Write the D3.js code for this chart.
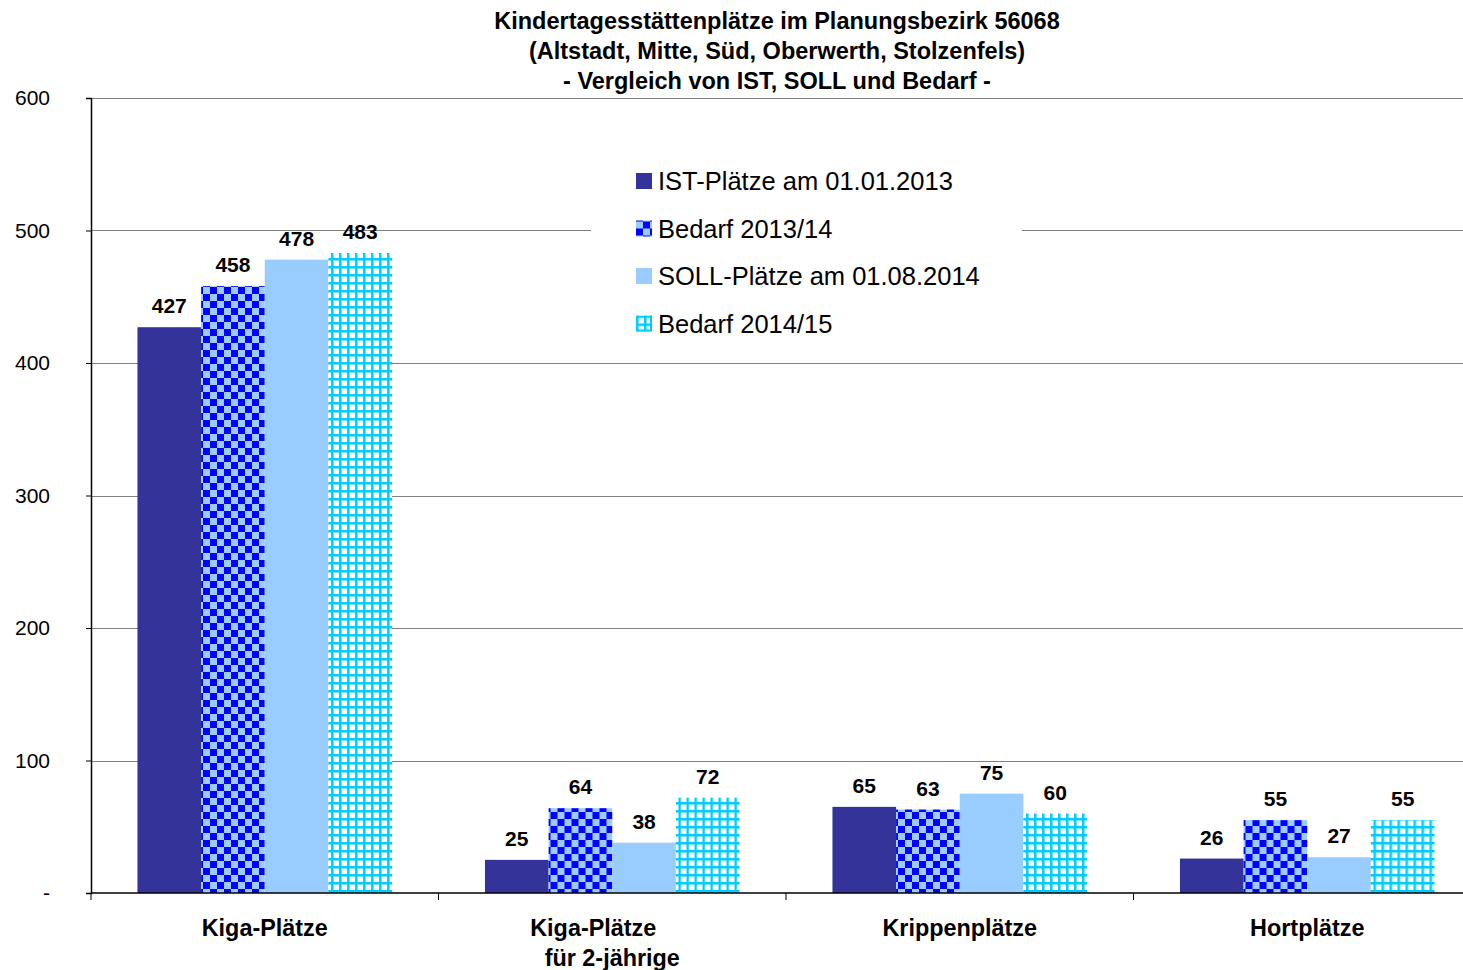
<!DOCTYPE html>
<html>
<head>
<meta charset="utf-8">
<script src="https://cdn.jsdelivr.net/npm/d3@7"></script>
<style>
  body { margin: 0; background: #fff; }
  svg { display: block; font-family: Arial, "Liberation Sans", sans-serif; }
</style>
</head>
<body>
<div id="chart"></div>
<script>
// chart data
const categories = [['Kiga-Plätze'], ['Kiga-Plätze', 'für 2-jährige'], ['Krippenplätze'], ['Hortplätze']];
const seriesNames = ['IST-Plätze am 01.01.2013', 'Bedarf 2013/14', 'SOLL-Plätze am 01.08.2014', 'Bedarf 2014/15'];
const istPlaetze = [427, 25, 65, 26];
const bedarf1314 = [458, 64, 63, 55];
const sollPlaetze = [478, 38, 75, 27];
const bedarf1415 = [483, 72, 60, 55];
const yTicks = [0, 100, 200, 300, 400, 500, 600];
const titleLines = [
  'Kindertagesstättenplätze im Planungsbezirk 56068',
  '(Altstadt, Mitte, Süd, Oberwerth, Stolzenfels)',
  '- Vergleich von IST, SOLL und Bedarf -'
];

const series = [istPlaetze, bedarf1314, sollPlaetze, bedarf1415];
const fills = ['#333399', 'url(#checker)', '#99ccff', 'url(#gridpat)'];

const width = 1463, height = 970;
const margin = {top: 98, left: 91, bottom: 77};
const plotW = 1390; // the plot runs past the right edge of the picture
const innerH = height - margin.top - margin.bottom;

const svg = d3.select('#chart').append('svg')
  .attr('width', width)
  .attr('height', height);

// patterns for the Bedarf series
const defs = svg.append('defs');
const checker = defs.append('pattern')
  .attr('id', 'checker')
  .attr('patternUnits', 'userSpaceOnUse')
  .attr('width', 14).attr('height', 14);
checker.append('rect').attr('width', 14).attr('height', 14).attr('fill', '#99ccff');
checker.append('rect').attr('width', 7).attr('height', 7).attr('fill', '#0000ff');
checker.append('rect').attr('x', 7).attr('y', 7).attr('width', 7).attr('height', 7).attr('fill', '#0000ff');

const gridpat = defs.append('pattern')
  .attr('id', 'gridpat')
  .attr('patternUnits', 'userSpaceOnUse')
  .attr('width', 8).attr('height', 8);
gridpat.append('rect').attr('width', 8).attr('height', 8).attr('fill', '#ffffff');
gridpat.append('rect').attr('width', 2.5).attr('height', 8).attr('fill', '#00ccff');
gridpat.append('rect').attr('width', 8).attr('height', 2.5).attr('fill', '#00ccff');

const chart = svg.append('g')
  .attr('transform', `translate(${margin.left},${margin.top})`);

// scales
const yScale = d3.scaleLinear().domain([0, 600]).range([innerH, 0]);
const xGroup = d3.scaleBand().domain(d3.range(categories.length)).range([0, plotW]).padding(0);
const xInner = d3.scaleBand().domain(d3.range(series.length))
  .range([0, xGroup.bandwidth()]).paddingOuter(0.73).paddingInner(0);

// gridlines
chart.append('g')
  .selectAll('line')
  .data(yTicks.filter(d => d > 0))
  .join('line')
  .attr('x1', 0).attr('x2', plotW)
  .attr('y1', d => Math.round(yScale(d)) + 0.5)
  .attr('y2', d => Math.round(yScale(d)) + 0.5)
  .attr('stroke', '#808080')
  .attr('stroke-width', 1.2);

// legend box (white, sits over the gridline)
const legend = chart.append('g').attr('transform', `translate(${591 - margin.left},${150 - margin.top})`);
legend.append('rect').attr('width', 431).attr('height', 200).attr('fill', '#fff');
const legendRows = legend.selectAll('g.row')
  .data(seriesNames)
  .join('g')
  .attr('class', 'row')
  .attr('transform', (d, i) => `translate(45,${31 + i * 47.5})`);
legendRows.append('rect')
  .attr('x', 0).attr('y', -8)
  .attr('width', 16).attr('height', 16)
  .attr('fill', (d, i) => fills[i]);
// the grid swatch has a closing line on its right and bottom edge
legendRows.filter((d, i) => i === 3).append('path')
  .attr('d', 'M15,-8V8M0,7H16')
  .attr('stroke', '#00ccff')
  .attr('stroke-width', 2);
legendRows.append('text')
  .attr('x', 22)
  .attr('dy', '0.36em')
  .style('font-size', '25.5px')
  .text(d => d);

// bars
const groups = chart.selectAll('g.group')
  .data(categories)
  .join('g')
  .attr('class', 'group')
  .attr('transform', (d, i) => `translate(${xGroup(i)},0)`);

series.forEach((values, s) => {
  groups.append('rect')
    .attr('x', xInner(s))
    .attr('width', xInner.bandwidth())
    .attr('y', (d, i) => yScale(values[i]))
    .attr('height', (d, i) => innerH - yScale(values[i]))
    .attr('fill', fills[s]);

  groups.append('text')
    .attr('x', xInner(s) + xInner.bandwidth() / 2)
    .attr('y', (d, i) => yScale(values[i]) - 14)
    .attr('text-anchor', 'middle')
    .style('font-size', '21px')
    .style('font-weight', 'bold')
    .text((d, i) => values[i]);
});

// axes
const yAxis = d3.axisLeft(yScale)
  .tickValues(yTicks)
  .tickSize(5)
  .tickPadding(36)
  .tickFormat(d => d === 0 ? '-' : d);
const yAxisG = chart.append('g').call(yAxis);
yAxisG.select('.domain').attr('stroke', '#000').attr('stroke-width', 1.5);
yAxisG.selectAll('.tick line').attr('stroke', '#000');
yAxisG.selectAll('.tick text')
  .style('font-size', '21px')
  .style('font-family', 'Arial, "Liberation Sans", sans-serif')
  .attr('fill', '#000');

const xAxisG = chart.append('g').attr('transform', `translate(0,${innerH})`);
xAxisG.append('line')
  .attr('x1', 0).attr('x2', plotW)
  .attr('stroke', '#000').attr('stroke-width', 1.5);
xAxisG.selectAll('line.tick')
  .data(d3.range(categories.length + 1))
  .join('line')
  .attr('class', 'tick')
  .attr('x1', i => xGroup(i) ?? plotW).attr('x2', i => xGroup(i) ?? plotW)
  .attr('y1', 0).attr('y2', 7)
  .attr('stroke', '#000');

// category labels
const catLabels = xAxisG.selectAll('text.cat')
  .data(categories)
  .join('text')
  .attr('class', 'cat')
  .attr('text-anchor', 'middle')
  .style('font-size', '23.4px')
  .style('font-weight', 'bold');
catLabels.selectAll('tspan')
  .data((d, i) => d.map(line => ({line, i, n: d.length})))
  .join('tspan')
  .attr('x', (d, j) => xGroup(d.i) + xGroup.bandwidth() / 2 - (d.n > 1 && j === 0 ? 19 : 0))
  .attr('y', (d, j) => 43 + j * 30)
  .text(d => d.line);

// title
svg.append('text')
  .attr('text-anchor', 'middle')
  .style('font-size', '23.5px')
  .style('font-weight', 'bold')
  .selectAll('tspan')
  .data(titleLines)
  .join('tspan')
  .attr('x', 777)
  .attr('y', (d, i) => 29 + i * 30)
  .text(d => d);
</script>
</body>
</html>
